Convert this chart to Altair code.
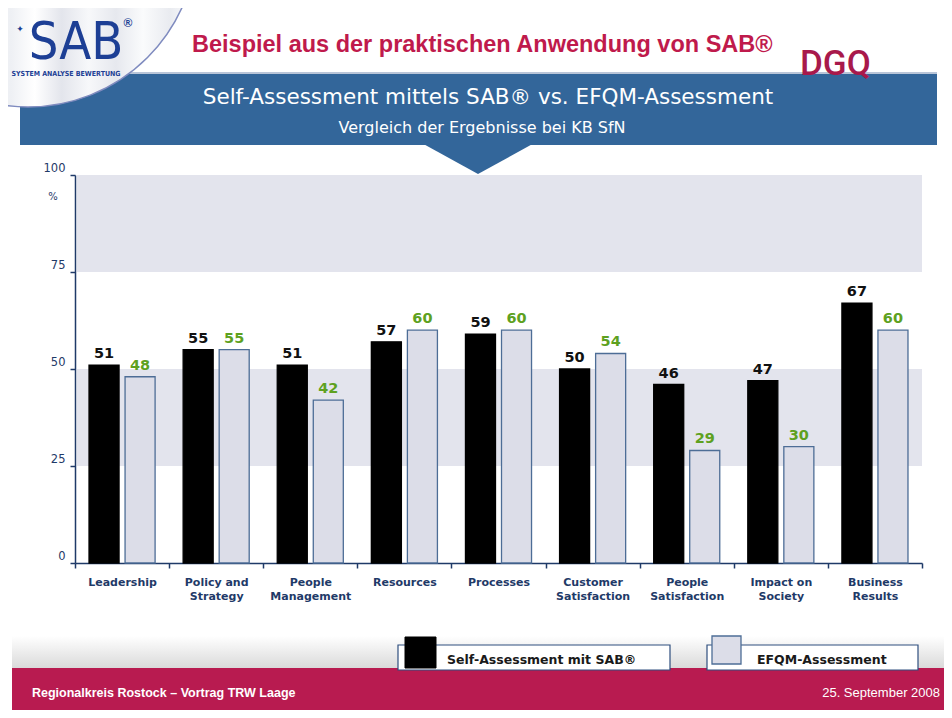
import altair as alt
import pandas as pd

# ---------------- data ----------------
categories = ["Leadership", "Policy and|Strategy", "People|Management", "Resources",
              "Processes", "Customer|Satisfaction", "People|Satisfaction",
              "Impact on|Society", "Business|Results"]
series = ["Self-Assessment mit SAB®", "EFQM-Assessment"]
sab_values = [51, 55, 51, 57, 59, 50, 46, 47, 67]
efqm_values = [48, 55, 42, 60, 60, 54, 29, 30, 60]
y_ticks = [0, 25, 50, 75, 100]
bands = [{"y1": 25, "y2": 50}, {"y1": 75, "y2": 100}]

rows = []
for c, a, b in zip(categories, sab_values, efqm_values):
    rows.append({"cat": c, "series": series[0], "value": a})
    rows.append({"cat": c, "series": series[1], "value": b})
df = pd.DataFrame(rows)

# ---------------- styling ----------------
NAVY = "#1f3a68"
BLUE = "#33669a"
CRIMSON = "#bf1a4c"
FOOT = "#b81b50"
GREEN = "#5ea11f"
LAV = "#dcdde8"
EDGE = "#4d6d96"
BAND = "#e3e4ed"

W, H = 847, 388
OX, OY = 75, 175  # page position of plot origin

one = alt.Data(values=[{}])


def px(x):
    return x - OX


def py(y):
    return y - OY


def rect(x1, x2, y1, y2, **kw):
    return alt.Chart(one).mark_rect(**kw).encode(
        x=alt.value(px(x1)), x2=alt.value(px(x2)),
        y=alt.value(py(y1)), y2=alt.value(py(y2)))


def txt(s, x, y, **kw):
    return alt.Chart(one).mark_text(**kw).encode(
        x=alt.value(px(x)), y=alt.value(py(y)), text=alt.value(s))


# ---------------- header decorations ----------------
banner = rect(20, 937, 74, 145, color=BLUE)
banner_line = rect(130, 937, 72, 74, color="#b9c5d8")
triangle = alt.Chart(one).mark_point(
    shape="M-1,-0.275L1,-0.275L0,0.275Z", size=109 * 109, filled=True,
    color=BLUE, opacity=1, strokeWidth=0).encode(
    x=alt.value(px(478)), y=alt.value(py(159)))

stripes = alt.Gradient(
    gradient="linear", x1=0, x2=1, y1=0, y2=0,
    stops=[alt.GradientStop(color="#ffffff", offset=0),
           alt.GradientStop(color="#eef0f4", offset=0.45),
           alt.GradientStop(color="#ffffff", offset=0.52),
           alt.GradientStop(color="#e3e5ec", offset=0.6),
           alt.GradientStop(color="#f7f8fa", offset=0.68),
           alt.GradientStop(color="#e6e8ee", offset=0.76),
           alt.GradientStop(color="#fafbfc", offset=0.84),
           alt.GradientStop(color="#e9ebf0", offset=0.92),
           alt.GradientStop(color="#ffffff", offset=1)])
logo_circle = alt.Chart(one).mark_arc(
    radius=169, theta=0, theta2=6.2832, fill=stripes,
    stroke="#7f8bbf", strokeWidth=1.5).encode(
    x=alt.value(px(28)), y=alt.value(py(-62)))

NARROW = "Liberation Sans Narrow, DejaVu Sans Condensed, Liberation Sans, sans-serif"
logo_sab = txt("SAB", 76, 59, font=NARROW, fontSize=52, color="#1d3f95",
               align="center", baseline="alphabetic")
logo_reg = txt("®", 128, 27, font="Liberation Sans", fontSize=12, fontWeight="bold",
               color="#1d3f95", align="center", baseline="alphabetic")
logo_sub = txt("SYSTEM ANALYSE BEWERTUNG", 66, 76, font=NARROW, fontSize=7,
               fontWeight="bold", color="#1d3f95", align="center", baseline="alphabetic")
logo_fig = txt("✦", 20, 32, font="DejaVu Sans", fontSize=9, color="#1d3f95",
               align="center", baseline="alphabetic")

head_title = txt("Beispiel aus der praktischen Anwendung von SAB®", 192, 52,
                 font="Liberation Sans", fontSize=23.5, fontWeight="bold",
                 color=CRIMSON, align="left", baseline="alphabetic")
dgq = txt("DGQ", 800, 75, font="Roboto, DejaVu Sans, sans-serif", fontSize=35,
          fontWeight=500, color="#a8194b", align="left", baseline="alphabetic")

ban_t1 = txt("Self-Assessment mittels SAB® vs. EFQM-Assessment", 488, 104,
             font="DejaVu Sans", fontSize=21.5, color="white", align="center",
             baseline="alphabetic")
ban_t2 = txt("Vergleich der Ergebnisse bei KB SfN", 482, 133,
             font="DejaVu Sans", fontSize=16, color="white", align="center",
             baseline="alphabetic")

# ---------------- chart ----------------
band_layer = alt.Chart(alt.Data(values=bands)).mark_rect(color=BAND).encode(
    x=alt.value(2), x2=alt.value(W),
    y=alt.Y("y1:Q", scale=alt.Scale(domain=[0, 100], nice=False)),
    y2="y2:Q")

x_enc = alt.X("cat:N", sort=categories,
              scale=alt.Scale(domain=categories, paddingInner=0, paddingOuter=0),
              axis=alt.Axis(title=None, labelAngle=0,
                            labelExpr="split(datum.label, '|')",
                            tickBand="extent", labelFont="DejaVu Sans",
                            labelFontWeight="bold", labelFontSize=11,
                            labelColor=NAVY, labelLineHeight=14, labelPadding=8,
                            tickSize=5, tickColor=NAVY, tickWidth=1.5,
                            domainColor=NAVY, domainWidth=1.5))
xo_enc = alt.XOffset("series:N", sort=series,
                     scale=alt.Scale(domain=series, paddingInner=0.1667,
                                     paddingOuter=0.389))
y_enc = alt.Y("value:Q", scale=alt.Scale(domain=[0, 100], nice=False),
              axis=alt.Axis(title=None, values=y_ticks, grid=False,
                            labelFont="DejaVu Sans", labelFontSize=11.5,
                            labelColor=NAVY, labelOffset=-7, labelPadding=5,
                            labelFlush=False, tickSize=5, tickColor=NAVY,
                            tickWidth=1.5, domainColor=NAVY, domainWidth=1.5))

bars = alt.Chart(df).mark_bar(strokeWidth=1.3).encode(
    x=x_enc, xOffset=xo_enc, y=y_enc,
    color=alt.Color("series:N", scale=alt.Scale(domain=series, range=["#000000", LAV]),
                    legend=None),
    stroke=alt.Stroke("series:N", scale=alt.Scale(domain=series, range=["#000000", EDGE]),
                      legend=None))

lab_sab = alt.Chart(df).transform_filter(alt.datum.series == series[0]).mark_text(
    font="DejaVu Sans", fontSize=14.5, fontWeight="bold", color="#111111",
    dy=-7, baseline="alphabetic").encode(
    x=alt.X("cat:N", sort=categories), xOffset=alt.XOffset("series:N", sort=series),
    y=alt.Y("value:Q"), text="value:Q")
lab_efqm = alt.Chart(df).transform_filter(alt.datum.series == series[1]).mark_text(
    font="DejaVu Sans", fontSize=14.5, fontWeight="bold", color=GREEN,
    dy=-7, baseline="alphabetic").encode(
    x=alt.X("cat:N", sort=categories), xOffset=alt.XOffset("series:N", sort=series),
    y=alt.Y("value:Q"), text="value:Q")

pct = txt("%", 53, 197, font="DejaVu Sans", fontSize=10, color=NAVY,
          align="center", baseline="middle")

# ---------------- footer / legend ----------------
fade = alt.Gradient(gradient="linear", x1=0, x2=0, y1=0, y2=1,
                    stops=[alt.GradientStop(color="#ffffff", offset=0),
                           alt.GradientStop(color="#dadada", offset=1)])
strip = rect(12, 952, 636, 668, fill=fade)
footer = rect(12, 952, 668, 712, color=FOOT)
foot_l = txt("Regionalkreis Rostock – Vortrag TRW Laage", 32, 697,
             font="Liberation Sans", fontSize=12.5, fontWeight="bold",
             color="white", align="left", baseline="alphabetic")
foot_r = txt("25. September  2008", 940, 697, font="Liberation Sans", fontSize=13,
             color="white", align="right", baseline="alphabetic")

leg_box1 = rect(398, 670, 645, 670, fill="white", stroke="#2f4f7f", strokeWidth=1.2)
leg_sq1 = rect(405, 436, 637, 668, fill="#000000", stroke="#000000")
leg_t1 = txt(series[0], 447, 664, font="DejaVu Sans", fontSize=12.5, fontWeight="bold",
             color="#1a1a1a", align="left", baseline="alphabetic")
leg_box2 = rect(707, 918, 645, 670, fill="white", stroke="#2f4f7f", strokeWidth=1.2)
leg_sq2 = rect(712, 741, 636, 664, fill=LAV, stroke=EDGE, strokeWidth=1.3)
leg_t2 = txt(series[1], 757, 664, font="DejaVu Sans", fontSize=12.5, fontWeight="bold",
             color="#1a1a1a", align="left", baseline="alphabetic")

chart = alt.layer(
    banner_line, banner, triangle, logo_circle, logo_sab, logo_reg, logo_sub, logo_fig,
    head_title, dgq, ban_t1, ban_t2,
    band_layer, bars, lab_sab, lab_efqm, pct,
    strip, footer, foot_l, foot_r,
    leg_box1, leg_sq1, leg_t1, leg_box2, leg_sq2, leg_t2,
).properties(
    width=W, height=H,
    autosize=alt.AutoSizeParams(type="none"),
    padding={"left": 67, "top": 167, "right": 22, "bottom": 147},
    background="white",
).configure_view(stroke=None)

chart.save("out.html", embed_options={"renderer": "svg", "actions": False})
